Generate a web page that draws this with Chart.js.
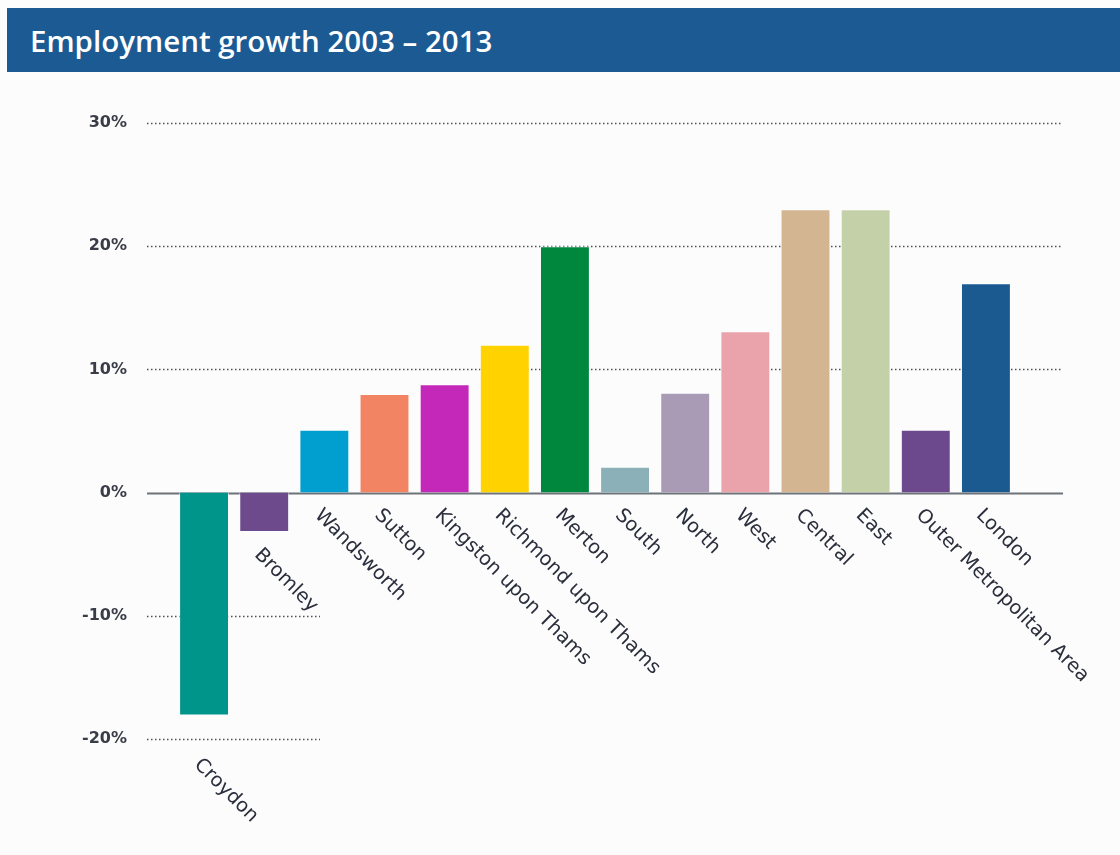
<!doctype html>
<html>
<head>
<title>Employment growth 2003 - 2013</title>
<script src="https://cdn.jsdelivr.net/npm/chart.js@4.4.0/dist/chart.umd.min.js"></script>
<style>
	body { margin: 0; background: #fcfcfc; }
	#wrap { position: relative; width: 1120px; height: 855px; }
	#title {
		position: absolute; left: 7px; top: 8px; width: 1113px; height: 64px;
		background: #1b5a93; color: #fff;
		font-family: "Open Sans", sans-serif; font-weight: 600; font-size: 29.5px;
		line-height: 66px; padding-left: 23px; box-sizing: border-box;
	}
	canvas { position: absolute; left: 0; top: 0; }
</style>
</head>
<body>
<div id="wrap">
	<canvas id="canvas" width="1120" height="855"></canvas>
	<div id="title">Employment growth 2003 – 2013</div>
</div>
<script>
var areas = ['Croydon', 'Bromley', 'Wandsworth', 'Sutton', 'Kingston upon Thams', 'Richmond upon Thams',
	'Merton', 'South', 'North', 'West', 'Central', 'East', 'Outer Metropolitan Area', 'London'];
var growth = [-18.1, -3.2, 5.1, 8.0, 8.8, 12.0, 20.0, 2.1, 8.1, 13.1, 23.0, 23.0, 5.1, 17.0];
var barColors = ['#00958a', '#6d4a8c', '#009fcf', '#f28463', '#c428b8', '#ffd200', '#00873e',
	'#8cb0b8', '#a99ab6', '#eaa3ab', '#d4b592', '#c4d0a8', '#6c488d', '#1a5a91'];
var yTicks = [30, 20, 10, 0, -10, -20];

// gridlines, zero line and the slanted category labels
var decor = {
	id: 'decor',
	beforeDatasetsDraw: function (chart) {
		var ctx = chart.ctx, y = chart.scales.y;
		ctx.save();
		yTicks.forEach(function (t) {
			var py = Math.round(y.getPixelForValue(t)) + 0.5;
			ctx.beginPath();
			if (t == 0) {
				ctx.setLineDash([]);
				ctx.strokeStyle = '#6d7278';
				ctx.lineWidth = 2;
			} else {
				ctx.setLineDash([1.5, 2.5]);
				ctx.strokeStyle = '#4a4f56';
				ctx.lineWidth = 1.3;
			}
			ctx.moveTo(147, py);
			ctx.lineTo(t < 0 ? 320 : 1063, py);
			ctx.stroke();
		});
		ctx.restore();
	},
	afterDatasetsDraw: function (chart) {
		var ctx = chart.ctx, x = chart.scales.x, y = chart.scales.y;
		ctx.save();
		ctx.fillStyle = '#2b2e3c';
		ctx.font = '19.5px "DejaVu Sans", sans-serif';
		ctx.textAlign = 'left';
		ctx.textBaseline = 'top';
		areas.forEach(function (name, i) {
			var cx = x.getPixelForValue(i);
			var end = y.getPixelForValue(Math.min(growth[i], 0));
			var top = end + 13;
			yTicks.forEach(function (t) {
				var gy = y.getPixelForValue(t);
				if (t < 0 && gy > end && gy - end < 35) top = gy + 16;
			});
			ctx.save();
			ctx.translate(cx, top);
			ctx.rotate(Math.PI / 4);
			ctx.fillText(name, 0, 0);
			ctx.restore();
		});
		ctx.restore();
	}
};

var ctx = document.getElementById('canvas').getContext('2d');
window.myBar = new Chart(ctx, {
	type: 'bar',
	data: {
		labels: areas,
		datasets: [{
			data: growth,
			backgroundColor: barColors,
			borderColor: 'rgba(255,255,255,0.6)',
			borderWidth: 1,
			categoryPercentage: 1,
			barPercentage: 0.83
		}]
	},
	options: {
		responsive: false,
		animation: false,
		layout: { padding: { top: 123, bottom: 116, right: 104, left: 0 } },
		plugins: { legend: { display: false }, title: { display: false }, tooltip: { enabled: false } },
		scales: {
			x: { display: false },
			y: {
				min: -20, max: 30,
				afterFit: function (scale) { scale.width = 174; },
				grid: { display: false, drawTicks: false },
				border: { display: false },
				ticks: {
					stepSize: 10,
					padding: 47,
					color: '#3a3d48',
					font: { family: 'DejaVu Sans', weight: 'bold', size: 16 },
					callback: function (v) { return v + '%'; }
				}
			}
		}
	},
	plugins: [decor]
});
</script>
</body>
</html>
